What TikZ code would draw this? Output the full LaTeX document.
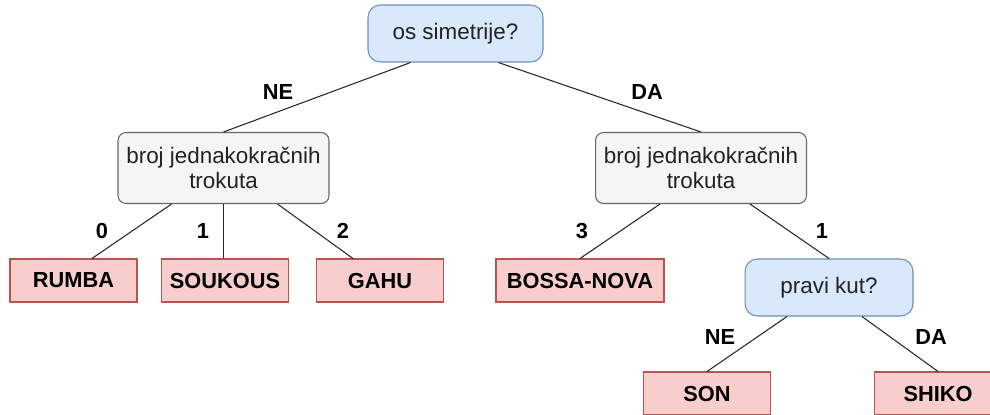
\documentclass[tikz,border=0pt]{standalone}
\usepackage{fontspec}
\setmainfont{Liberation Sans}
\usetikzlibrary{calc}

\definecolor{askfill}{HTML}{DAE8FC}
\definecolor{askline}{HTML}{6C8EBF}
\definecolor{countfill}{HTML}{F5F5F5}
\definecolor{countline}{HTML}{666666}
\definecolor{dancefill}{HTML}{F8CECC}
\definecolor{danceline}{HTML}{B85450}
\definecolor{txt}{HTML}{222222}

\begin{document}
\begin{tikzpicture}[x=0.02cm,y=-0.02cm,
    ask/.style={draw=askline,fill=askfill,line width=0.6pt,rounded corners=7pt,
        minimum width=3.42cm,minimum height=1.14cm,inner sep=0pt,text=txt,
        font=\fontsize{12.75}{14.2}\selectfont},
    count/.style={draw=countline,fill=countfill,line width=0.6pt,rounded corners=4.5pt,
        minimum width=4.22cm,minimum height=1.42cm,inner sep=0pt,align=center,text=txt,
        font=\fontsize{12.75}{14.2}\selectfont},
    dance/.style={draw=danceline,fill=dancefill,line width=0.6pt,
        minimum width=2.54cm,minimum height=0.86cm,inner sep=0pt,
        font=\fontsize{12.4}{14}\selectfont\bfseries},
    edge/.style={line width=0.6pt,draw=black!85},
    lab/.style={inner sep=0pt,font=\fontsize{12.4}{14}\selectfont\bfseries}]
    \useasboundingbox (0,0) rectangle (990,414);
    % questions
    \node[ask, minimum width=3.5cm] (root) at (455.5,33.5) {os simetrije?};
    \node[count] (lcount) at (223.5,168) {broj jednakokračnih\\trokuta};
    \node[count] (rcount) at (701,168) {broj jednakokračnih\\trokuta};
    \node[ask, minimum width=3.36cm] (angle) at (829,287.5) {pravi kut?};
    % dances
    \node[dance] (rumba) at (73.5,280.5) {RUMBA};
    \node[dance] (soukous) at (225,280.5) {SOUKOUS};
    \node[dance] (gahu) at (380,280.5) {GAHU};
    \node[dance, minimum width=3.36cm] (bossa) at (580,280.5) {BOSSA-NOVA};
    \node[dance] (son) at (707,393.5) {SON};
    \node[dance] (shiko) at (938,393.5) {SHIKO};
    % branches
    \draw[edge] ($(root.south)+(-45,0)$) -- (lcount.north);
    \draw[edge] ($(root.south)+(43,0)$) -- (rcount.north);
    \draw[edge] ($(lcount.south)+(-52,0)$) -- ($(rumba.north)+(18.5,0)$);
    \draw[edge] (lcount.south) -- (lcount.south |- soukous.north);
    \draw[edge] ($(lcount.south)+(54,0)$) -- ($(gahu.north)+(-27,0)$);
    \draw[edge] ($(rcount.south)+(-41,0)$) -- (bossa.north);
    \draw[edge] ($(rcount.south)+(49,0)$) -- (angle.north);
    \draw[edge] ($(angle.south)+(-42,0)$) -- (son.north);
    \draw[edge] ($(angle.south)+(33,0)$) -- (shiko.north);
    % answers
    \node[lab] (no1) at (278,92) {NE};
    \node[lab] (yes1) at (647,92) {DA};
    \node[lab] (zero) at (102,231) {0};
    \node[lab] (one) at (203,231) {1};
    \node[lab] (two) at (343,231) {2};
    \node[lab] (three) at (582,231) {3};
    \node[lab] (onebis) at (822,231) {1};
    \node[lab] (no2) at (720,337) {NE};
    \node[lab] (yes2) at (931,337) {DA};
\end{tikzpicture}
\end{document}
